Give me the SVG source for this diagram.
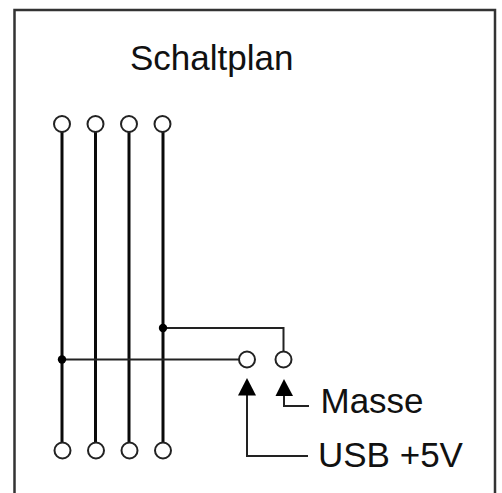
<svg xmlns="http://www.w3.org/2000/svg" width="502" height="493" viewBox="0 0 502 493">
<style>
text{font-family:"Liberation Sans",Arial,sans-serif;fill:#111;font-size:35px}
.bus{stroke:#0a0a0a;stroke-width:3;fill:none}
.wire{stroke:#222;stroke-width:2;fill:none}
.pin{stroke:#222;stroke-width:2;fill:#fff}
</style>
<rect width="502" height="493" fill="#fff"/>
<path id="frame" d="M14.500 493V10H495V493" fill="none" stroke="#333" stroke-width="2.500"/>
<g id="connectors">
<path class="bus" d="M62 132V443"/>
<path class="bus" d="M95.500 132V443"/>
<path class="bus" d="M129 132V443"/>
<path class="bus" d="M163 132V443"/>
<path class="wire" d="M62 359.500H239"/>
<path class="wire" d="M163 328H283.500V351"/>
<path class="wire" d="M247 392V456H308"/>
<path class="wire" d="M284 392V406H309"/>
<polygon points="247,378 238,395.500 256,395.500" fill="#000"/>
<polygon points="284,379 275.500,396 293,396" fill="#000"/>
<circle cx="62" cy="359.500" r="4.200" fill="#000"/>
<circle cx="163" cy="328" r="4.200" fill="#000"/>
</g>
<g id="pin-top-1"><circle class="pin" cx="62" cy="124" r="8"/></g>
<g id="pin-top-2"><circle class="pin" cx="95.500" cy="124" r="8"/></g>
<g id="pin-top-3"><circle class="pin" cx="129" cy="124" r="8"/></g>
<g id="pin-top-4"><circle class="pin" cx="162.500" cy="124" r="8"/></g>
<g id="pin-bottom-1"><circle class="pin" cx="62.500" cy="450.500" r="8"/></g>
<g id="pin-bottom-2"><circle class="pin" cx="96" cy="450.500" r="8"/></g>
<g id="pin-bottom-3"><circle class="pin" cx="129.500" cy="450.500" r="8"/></g>
<g id="pin-bottom-4"><circle class="pin" cx="163" cy="450.500" r="8"/></g>
<g id="pin-usb"><circle class="pin" cx="247" cy="359.500" r="8"/></g>
<g id="pin-masse"><circle class="pin" cx="283.500" cy="359.500" r="8"/></g>
<g id="label-title"><text x="130" y="69.500">Schaltplan</text></g>
<g id="label-masse"><text x="320.500" y="413.300">Masse</text></g>
<g id="label-usb"><text x="318" y="467.300">USB +5V</text></g>
</svg>
